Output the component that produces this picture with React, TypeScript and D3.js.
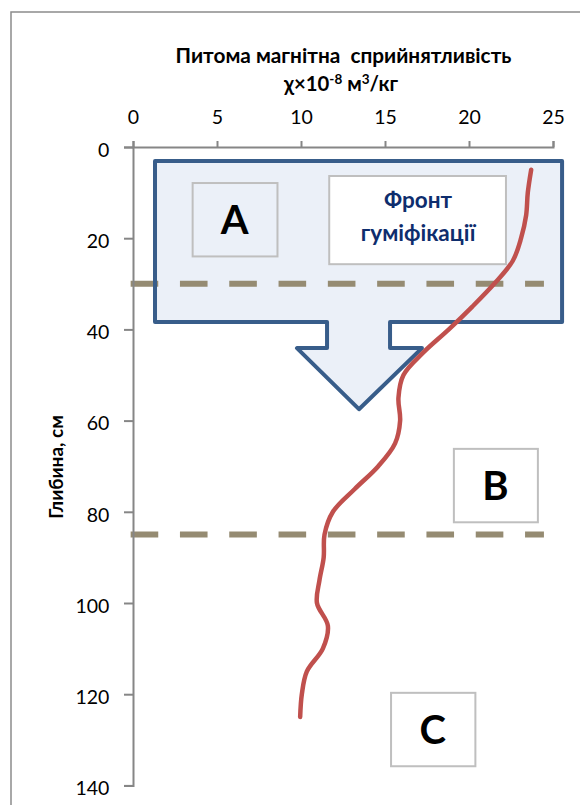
import React, { useEffect, useRef } from "react";
import * as d3 from "d3";

// ---- data ----
const depths = [5, 10, 15, 20, 25, 30, 35, 40, 45, 50, 55, 60, 65, 70, 75, 80, 85, 90, 95, 100, 105, 110, 115, 120, 125];
const chiValues = [23.7, 23.5, 23.4, 23.1, 22.6, 21.5, 20.2, 18.8, 17.3, 16.1, 15.8, 15.9, 15.6, 14.6, 13.2, 11.9, 11.4, 11.35, 11.1, 10.95, 11.6, 11.3, 10.35, 10.05, 9.95];
const xTicks = [0, 5, 10, 15, 20, 25];
const yTicks = [0, 20, 40, 60, 80, 100, 120, 140];
const boundaryDepths = [30, 85];
const titleLine1 = "Питома магнітна  сприйнятливість";
const yTitle = "Глибина, см";
const frontLines = ["Фронт", "гуміфікації"];

// annotation geometry in data units (value, depth)
const arrowRect = { x0: 1.31, x1: 25.54, y0: 3.07, y1: 38.4 };
const arrowNeck = { x0: 11.55, x1: 15.3, y: 44.1 };
const arrowHead = { x0: 9.76, x1: 17.2, tipX: 13.45, tipY: 57.5 };
const boxA = { x0: 3.55, x1: 8.6, y0: 7.9, y1: 24.0, label: "A" };
const boxFront = { x0: 11.68, x1: 22.2, y0: 6.36, y1: 25.7 };
const boxB = { x0: 19.1, x1: 24.1, y0: 66.2, y1: 82.3, label: "B" };
const boxC = { x0: 15.36, x1: 20.38, y0: 119.7, y1: 135.8, label: "C" };
const dashX = [-0.14, 24.46];

const W = 580;
const H = 805;
const FONT = "Lato, 'Open Sans', sans-serif";

export default function App() {
  const xAxisRef = useRef<SVGGElement>(null);
  const yAxisRef = useRef<SVGGElement>(null);

  const x = d3.scaleLinear().domain([0, 25]).range([133, 553]);
  const y = d3.scaleLinear().domain([0, 140]).range([147, 785.4]);

  useEffect(() => {
    const gx = d3.select(xAxisRef.current!);
    gx.call(d3.axisTop(x).tickValues(xTicks).tickSize(6).tickPadding(17) as any);
    gx.select(".domain").attr("stroke", "#868686").attr("stroke-width", 2);
    gx.selectAll(".tick line").attr("stroke", "#868686").attr("stroke-width", 2);
    gx.selectAll(".tick text")
      .attr("fill", "#000")
      .style("font-family", FONT)
      .style("font-size", "19.5px");

    const gy = d3.select(yAxisRef.current!);
    gy.call(d3.axisLeft(y).tickValues(yTicks).tickSize(9).tickPadding(14.7) as any);
    gy.select(".domain").attr("stroke", "#868686").attr("stroke-width", 2);
    gy.selectAll(".tick line").attr("stroke", "#868686").attr("stroke-width", 2);
    gy.selectAll(".tick text")
      .attr("fill", "#000")
      .attr("dy", "0.48em")
      .style("font-family", FONT)
      .style("font-size", "19.5px");
  }, []);

  const pts: [number, number][] = depths.map((d, i) => [x(chiValues[i]), y(d)]);
  const line = d3.line().curve(d3.curveCatmullRom.alpha(0.5))(pts) || "";

  const arrowPath = [
    [arrowRect.x0, arrowRect.y0],
    [arrowRect.x1, arrowRect.y0],
    [arrowRect.x1, arrowRect.y1],
    [arrowNeck.x1, arrowRect.y1],
    [arrowNeck.x1, arrowNeck.y],
    [arrowHead.x1, arrowNeck.y],
    [arrowHead.tipX, arrowHead.tipY],
    [arrowHead.x0, arrowNeck.y],
    [arrowNeck.x0, arrowNeck.y],
    [arrowNeck.x0, arrowRect.y1],
    [arrowRect.x0, arrowRect.y1],
  ]
    .map((p, i) => `${i ? "L" : "M"}${x(p[0])},${y(p[1])}`)
    .join("") + "Z";

  const rectOf = (b: { x0: number; x1: number; y0: number; y1: number }) => ({
    x: x(b.x0),
    y: y(b.y0),
    width: x(b.x1) - x(b.x0),
    height: y(b.y1) - y(b.y0),
  });

  const letterBox = (b: typeof boxA, fill: string) => {
    const r = rectOf(b);
    return (
      <g key={b.label}>
        <rect {...r} fill={fill} stroke="#BFBFBF" strokeWidth={2} />
        <text
          x={r.x + r.width / 2 - 0.5}
          y={r.y + r.height / 2 + 14.5}
          textAnchor="middle"
          fontFamily={FONT}
          fontWeight={700}
          fontSize={40}
          fill="#000"
        >
          {b.label}
        </text>
      </g>
    );
  };

  const fr = rectOf(boxFront);

  return (
    <svg
      width={W}
      height={H}
      style={{ position: "absolute", left: 0, top: 0, display: "block", background: "#fff" }}
    >
      {/* outer chart border */}
      <rect x={11} y={12} width={W + 10} height={H + 10} fill="#fff" stroke="#8C8C8C" strokeWidth={1.5} />

      {/* arrow callout fill */}
      <path d={arrowPath} fill="#EBF0F8" stroke="none" />
      {letterBox(boxA, "none")}
      <rect {...fr} fill="#fff" stroke="#BFBFBF" strokeWidth={2} />
      {frontLines.map((t, i) => (
        <text
          key={t}
          x={fr.x + fr.width / 2 + 0.5}
          y={208 + i * 33}
          textAnchor="middle"
          fontFamily={FONT}
          fontWeight={700}
          fontSize={22.5}
          fill="#0E2D6D"
        >
          {t}
        </text>
      ))}

      {/* horizon boundaries */}
      {boundaryDepths.map((d) => (
        <line
          key={d}
          x1={x(dashX[0])}
          x2={x(dashX[1])}
          y1={y(d)}
          y2={y(d)}
          stroke="#958B72"
          strokeWidth={6}
          strokeDasharray="27.6 21.7"
        />
      ))}

      {/* arrow outline */}
      <path d={arrowPath} fill="none" stroke="#385D8A" strokeWidth={4} strokeLinejoin="round" />

      {/* axes */}
      <g ref={xAxisRef} transform={`translate(0,${y(0)})`} />
      <g ref={yAxisRef} transform={`translate(${x(0)},0)`} />

      {/* data curve */}
      <path d={line} fill="none" stroke="#C0504D" strokeWidth={4.5} strokeLinecap="round" strokeLinejoin="round" />

      {letterBox(boxB, "#fff")}
      {letterBox(boxC, "#fff")}

      {/* titles */}
      <text x={343.5} y={63} textAnchor="middle" fontFamily={FONT} fontWeight={700} fontSize={20.8} fill="#000" style={{ whiteSpace: "pre" }}>
        {titleLine1}
      </text>
      <text x={341} y={91} textAnchor="middle" fontFamily={FONT} fontWeight={700} fontSize={20.3} fill="#000">
        <tspan>χ×10</tspan>
        <tspan dy={-7} fontSize={13.5}>-8</tspan>
        <tspan dy={7}> м</tspan>
        <tspan dy={-7} fontSize={13.5}>3</tspan>
        <tspan dy={7}>/кг</tspan>
      </text>
      <text
        transform={`translate(63,467) rotate(-90)`}
        textAnchor="middle"
        fontFamily={FONT}
        fontWeight={700}
        fontSize={19}
        fill="#000"
      >
        {yTitle}
      </text>
    </svg>
  );
}
